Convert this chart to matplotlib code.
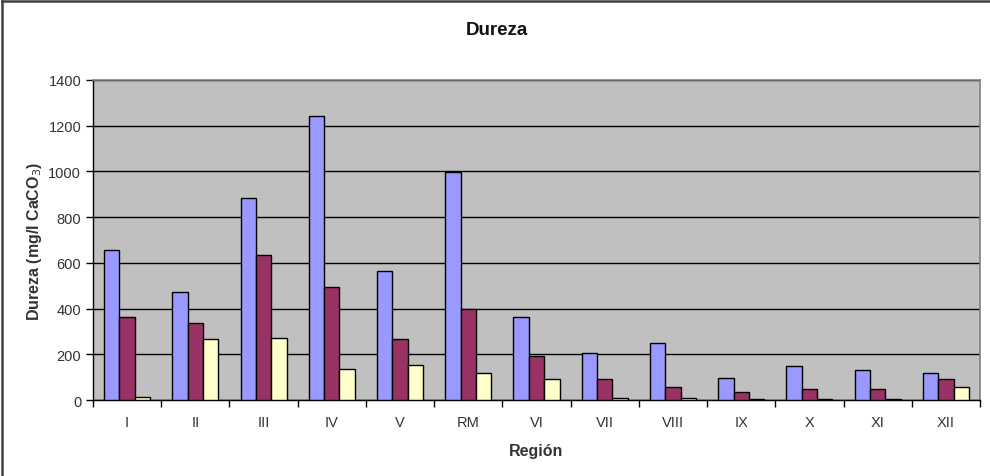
import numpy as np
import matplotlib.pyplot as plt
from matplotlib.lines import Line2D

regiones = ['I', 'II', 'III', 'IV', 'V', 'RM', 'VI', 'VII', 'VIII', 'IX', 'X', 'XI', 'XII']
serie_1 = [657, 474, 884, 1242, 566, 997, 363, 204, 249, 96, 147, 131, 120]
serie_2 = [362, 337, 636, 494, 267, 398, 193, 92, 57, 35, 47, 47, 92]
serie_3 = [14, 265, 271, 136, 153, 118, 92, 7, 7, 5, 5, 5, 58]
y_ticks = [0, 200, 400, 600, 800, 1000, 1200, 1400]

plt.rcParams['font.family'] = ['Liberation Sans', 'DejaVu Sans']

fig = plt.figure(figsize=(9.9, 4.77), dpi=100)
ax = fig.add_axes([0.0939, 0.1593, 0.896, 0.6709])
ax.set_facecolor('#C0C0C0')

x = np.arange(len(regiones))
w = 0.225
colores = ['#9999FF', '#993366', '#FFFFCC']
for k, (serie, c) in enumerate(zip([serie_1, serie_2, serie_3], colores)):
    ax.bar(x + (k - 1) * w, serie, w, color=c, edgecolor='black', linewidth=1.0, zorder=3)

ax.set_xlim(-0.5, len(regiones) - 0.5)
ax.set_ylim(0, 1400)
ax.set_yticks(y_ticks)
ax.yaxis.grid(True, color='black', linewidth=1.0, zorder=1)
ax.set_axisbelow(True)

# ticks at the category boundaries, labels centred under each group
ax.set_xticks(np.arange(len(regiones) + 1) - 0.5)
ax.set_xticklabels([])
ax.set_xticks(x, minor=True)
ax.set_xticklabels(regiones, minor=True)
ax.tick_params(axis='x', which='major', direction='out', length=5, width=1, color='black')
ax.tick_params(axis='x', which='minor', length=0, pad=11, labelsize=10.5, labelcolor='#333333')
ax.tick_params(axis='y', direction='out', length=5, width=1, labelsize=10.5, labelcolor='#333333')

# plot area outline: grey on top/right, black axis lines
for s in ['top', 'right']:
    ax.spines[s].set_color('#808080')
    ax.spines[s].set_linewidth(1.2)
ax.spines['left'].set_linewidth(1.0)
ax.spines['bottom'].set_linewidth(1.0)

ax.set_xlabel('Región', fontsize=11.5, fontweight='bold', color='#333333', labelpad=10)
ax.set_ylabel('Dureza (mg/l CaCO$_3$)', fontsize=11.5, fontweight='bold', color='#333333', labelpad=3)
fig.text(0.502, 0.937, 'Dureza', ha='center', va='center', fontsize=13.5, fontweight='bold', color='#111111')

# chart frame (left and top edges)
fig.lines.append(Line2D([0.0025, 0.0025], [0, 0.996], transform=fig.transFigure, color='#404040', linewidth=1.8))
fig.lines.append(Line2D([0.0025, 1], [0.996, 0.996], transform=fig.transFigure, color='#404040', linewidth=1.8))

fig.savefig('out.png', dpi=100)
